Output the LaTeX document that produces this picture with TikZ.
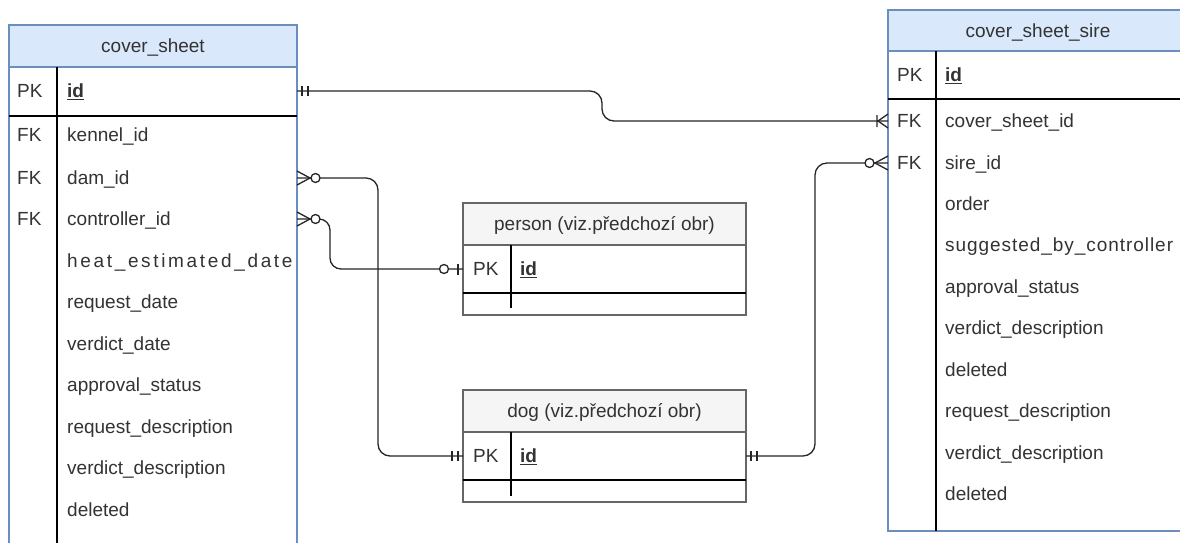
\documentclass[tikz,border=0pt]{standalone}
\usepackage{fontspec}
\setmainfont{Liberation Sans}
\definecolor{bluefill}{HTML}{DAE8FC}
\definecolor{blueline}{HTML}{6C8EBF}
\definecolor{grayfill}{HTML}{F5F5F5}
\definecolor{grayline}{HTML}{666666}
\definecolor{txt}{HTML}{333333}
\begin{document}
\begin{tikzpicture}[x=1pt,y=-1pt,
  font=\fontsize{19}{22}\selectfont,
  rowtxt/.style={inner sep=0pt, anchor=west, text=txt, text height=13.5pt, text depth=0pt},
  body/.style={line width=1.3pt, inner sep=0pt, outer sep=0pt, anchor=north west},
  hdr/.style={line width=1.3pt, inner sep=0pt, outer sep=0pt, anchor=north west, text=txt, text height=13.5pt, text depth=0pt},
  innerln/.style={draw=black, line width=1.5pt},
  conn/.style={draw=black!85, line width=1.3pt},
  mandone/.pic={\draw[conn] (5,-5)--(5,5) (11,-5)--(11,5);},
  onemany/.pic={\draw[conn] (0,-7)--(10,0)--(0,7) (11,-6)--(11,6);},
  zeromany/.pic={\draw[conn] (0,-7)--(13,0)--(0,7); \draw[conn,fill=white] (18.5,0) circle (4.5pt);},
  zeroone/.pic={\draw[conn] (5,-5.5)--(5,5.5); \draw[conn,fill=white] (19,0) circle (4.5pt);}
]
\useasboundingbox (0,0) rectangle (1180,542);
\clip (0,0) rectangle (1180,542);
\fill[white] (0,0) rectangle (1180,542);

% ---- cover_sheet ----
\node[body, draw=blueline, minimum width=288pt, minimum height=585pt] (cs) at (9,25) {};
\node[hdr, draw=blueline, fill=bluefill, minimum width=288pt, minimum height=42pt] (csh) at (9,25) {cover\_sheet};
\draw[innerln] (9,116) -- (297,116);
\draw[innerln] (57,67) -- (57,620);
\begin{scope}
\clip (9,67) rectangle (291,620);
\node[rowtxt] (cs-pk) at (17,91) {PK};
\node[rowtxt] (cs-id) at (67,91) {\textbf{\underline{id}}};
\node[rowtxt] (cs-fk1) at (17,135) {FK};
\node[rowtxt] (cs-kennel) at (67,135) {kennel\_id};
\node[rowtxt] (cs-fk2) at (17,178) {FK};
\node[rowtxt] (cs-dam) at (67,178) {dam\_id};
\node[rowtxt] (cs-fk3) at (17,219) {FK};
\node[rowtxt] (cs-ctrl) at (67,219) {controller\_id};
\node[rowtxt] (cs-heat) at (67,261) {\addfontfeatures{LetterSpace=14}heat\_estimated\_date};
\node[rowtxt] (cs-reqd) at (67,302) {request\_date};
\node[rowtxt] (cs-verd) at (67,344) {verdict\_date};
\node[rowtxt] (cs-appr) at (67,385) {approval\_status};
\node[rowtxt] (cs-reqdesc) at (67,427) {request\_description};
\node[rowtxt] (cs-verdesc) at (67,468) {verdict\_description};
\node[rowtxt] (cs-del) at (67,510) {deleted};
\end{scope}

% ---- cover_sheet_sire ----
\node[body, draw=blueline, minimum width=300pt, minimum height=521pt] (css) at (888,10) {};
\node[hdr, draw=blueline, fill=bluefill, minimum width=300pt, minimum height=41pt] (cssh) at (888,10) {cover\_sheet\_sire};
\draw[innerln] (888,99) -- (1188,99);
\draw[innerln] (936,51) -- (936,531);
\node[rowtxt] (css-pk) at (897,75) {PK};
\node[rowtxt] (css-id) at (945,75) {\textbf{\underline{id}}};
\node[rowtxt] (css-fk1) at (897,121) {FK};
\node[rowtxt] (css-csid) at (945,121) {cover\_sheet\_id};
\node[rowtxt] (css-fk2) at (897,163) {FK};
\node[rowtxt] (css-sire) at (945,163) {sire\_id};
\node[rowtxt] (css-order) at (945,204) {order};
\node[rowtxt] (css-sugg) at (945,245) {\addfontfeatures{LetterSpace=5}suggested\_by\_controller};
\node[rowtxt] (css-appr) at (945,287) {approval\_status};
\node[rowtxt] (css-verdesc1) at (945,328) {verdict\_description};
\node[rowtxt] (css-del1) at (945,370) {deleted};
\node[rowtxt] (css-reqdesc) at (945,411) {request\_description};
\node[rowtxt] (css-verdesc2) at (945,453) {verdict\_description};
\node[rowtxt] (css-del2) at (945,494) {deleted};

% ---- person ----
\node[body, draw=grayline, minimum width=283pt, minimum height=112pt] (per) at (463,203) {};
\node[hdr, draw=grayline, fill=grayfill, minimum width=283pt, minimum height=42pt] (perh) at (463,203) {person (viz.předchozí obr)};
\draw[innerln] (463,293) -- (746,293);
\draw[innerln] (511,245) -- (511,308);
\node[rowtxt] (per-pk) at (473,269) {PK};
\node[rowtxt] (per-id) at (520,269) {\textbf{\underline{id}}};

% ---- dog ----
\node[body, draw=grayline, minimum width=283pt, minimum height=112pt] (dog) at (463,390) {};
\node[hdr, draw=grayline, fill=grayfill, minimum width=283pt, minimum height=42pt] (dogh) at (463,390) {dog (viz.předchozí obr)};
\draw[innerln] (463,480) -- (746,480);
\draw[innerln] (511,432) -- (511,496);
\node[rowtxt] (dog-pk) at (473,456) {PK};
\node[rowtxt] (dog-id) at (520,456) {\textbf{\underline{id}}};

% ---- bend coordinates ----
\coordinate (b1) at (602,0);
\coordinate (b2) at (378,0);
\coordinate (b3) at (330,0);
\coordinate (b4) at (815,0);

% ---- connectors ----
\draw[conn, rounded corners=12pt] (cs.east |- cs-id) -- (b1 |- cs-id) -- (b1 |- css-csid) -- (css.west |- css-csid);
\draw[conn, rounded corners=12pt] (cs.east |- cs-dam) -- (b2 |- cs-dam) -- (b2 |- dog-id) -- (dog.west |- dog-id);
\draw[conn, rounded corners=11pt] (cs.east |- cs-ctrl) -- (b3 |- cs-ctrl) -- (b3 |- per-id) -- (per.west |- per-id);
\draw[conn, rounded corners=12pt] (dog.east |- dog-id) -- (b4 |- dog-id) -- (b4 |- css-sire) -- (css.west |- css-sire);

\pic at (cs.east |- cs-id) {mandone};
\pic[rotate=180] at (css.west |- css-csid) {onemany};
\pic at (cs.east |- cs-dam) {zeromany};
\pic at (cs.east |- cs-ctrl) {zeromany};
\pic[rotate=180] at (per.west |- per-id) {zeroone};
\pic[rotate=180] at (dog.west |- dog-id) {mandone};
\pic at (dog.east |- dog-id) {mandone};
\pic[rotate=180] at (css.west |- css-sire) {zeromany};
\end{tikzpicture}
\end{document}
